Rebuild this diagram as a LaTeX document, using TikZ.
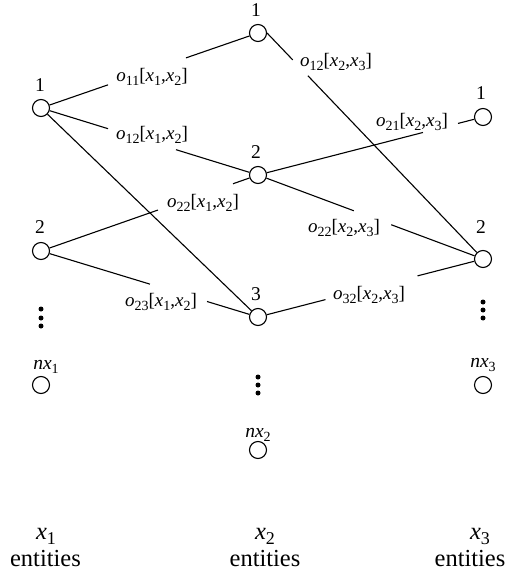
\documentclass[tikz,border=0pt]{standalone}
\usepackage{fontspec}
\setmainfont{Liberation Serif}
\newfontfamily\tms{Liberation Serif}
\usetikzlibrary{calc}
\newcommand{\sbt}[1]{\raisebox{-0.22em}{\fontsize{14}{14}\selectfont #1}}
\newcommand{\sbb}[1]{\raisebox{-0.22em}{\fontsize{18}{18}\selectfont #1}}
\begin{document}
\begin{tikzpicture}[x=1pt,y=-1pt,
  ent/.style={circle,draw,minimum size=17pt,inner sep=0pt,line width=1.1pt},
  num/.style={anchor=base,inner sep=0pt,font=\tms\fontsize{19.5}{22}\selectfont},
  elab/.style={inner sep=0pt,font=\tms\fontsize{19}{22}\selectfont},
  bigl/.style={anchor=base,inner sep=0pt,font=\tms\fontsize{24.5}{28}\selectfont},
  blob/.style={circle,fill,minimum size=5pt,inner sep=0pt},
  link/.style={line width=1.1pt}]
\useasboundingbox (0,0) rectangle (525,575);
% entity circles
\node[ent] (A1) at (41,108) {};
\node[ent] (A2) at (41,251) {};
\node[ent] (An) at (41,385) {};
\node[ent] (B1) at (258,33) {};
\node[ent] (B2) at (258,175) {};
\node[ent] (B3) at (258,317) {};
\node[ent] (Bn) at (258,450) {};
\node[ent] (C1) at (483,117) {};
\node[ent] (C2) at (483,259) {};
\node[ent] (Cn) at (483,385) {};
% numbers
\node[num] (A1l) at (40,92) {1};
\node[num] (A2l) at (40,233) {2};
\node[num] (B1l) at (256,17) {1};
\node[num] (B2l) at (256,158) {2};
\node[num] (B3l) at (256,300) {3};
\node[num] (C1l) at (481,100) {1};
\node[num] (C2l) at (481,233) {2};
\node[num] (Anl) at (46,369) {\textit{nx}\sbt{1}};
\node[num] (Bnl) at (258,437) {\textit{nx}\sbt{2}};
\node[num] (Cnl) at (483,367) {\textit{nx}\sbt{3}};
% dots
\node[blob] (Ad1) at (41,309) {};
\node[blob] (Ad2) at (41,318) {};
\node[blob] (Ad3) at (41,326) {};
\node[blob] (Bd1) at (258,377) {};
\node[blob] (Bd2) at (258,385) {};
\node[blob] (Bd3) at (258,393) {};
\node[blob] (Cd1) at (483,302) {};
\node[blob] (Cd2) at (483,310) {};
\node[blob] (Cd3) at (483,318) {};
% edge labels
\node[elab] (l11a) at (152,77) {\textit{o}\sbt{11}[\textit{x}\sbt{1},\textit{x}\sbt{2}]};
\node[elab] (l12a) at (152,135) {\textit{o}\sbt{12}[\textit{x}\sbt{1},\textit{x}\sbt{2}]};
\node[elab] (l22a) at (203,203) {\textit{o}\sbt{22}[\textit{x}\sbt{1},\textit{x}\sbt{2}]};
\node[elab] (l23a) at (161,302) {\textit{o}\sbt{23}[\textit{x}\sbt{1},\textit{x}\sbt{2}]};
\node[elab] (l12b) at (336,62) {\textit{o}\sbt{12}[\textit{x}\sbt{2},\textit{x}\sbt{3}]};
\node[elab] (l21b) at (412,122) {\textit{o}\sbt{21}[\textit{x}\sbt{2},\textit{x}\sbt{3}]};
\node[elab] (l22b) at (344,228) {\textit{o}\sbt{22}[\textit{x}\sbt{2},\textit{x}\sbt{3}]};
\node[elab] (l32b) at (369,295) {\textit{o}\sbt{32}[\textit{x}\sbt{2},\textit{x}\sbt{3}]};
% bottom labels
\node[bigl] (X1) at (46,539) {\textit{x}\sbb{1}};
\node[bigl] (X2) at (265,539) {\textit{x}\sbb{2}};
\node[bigl] (X3) at (480,539) {\textit{x}\sbb{3}};
\node[bigl] (E1) at (45.5,566) {entities};
\node[bigl] (E2) at (265,566) {entities};
\node[bigl] (E3) at (470,566) {entities};
% connectors (broken where the labels sit)
\draw[link] (A1) -- ($(A1)!0.309!(B1)$);
\draw[link] ($(A1)!0.668!(B1)$) -- (B1);
\draw[link] (A1) -- ($(A1)!0.309!(B2)$);
\draw[link] ($(A1)!0.622!(B2)$) -- (B2);
\draw[link] (A1) -- (B3);
\draw[link] (A2) -- ($(A2)!0.539!(B2)$);
\draw[link] ($(A2)!0.885!(B2)$) -- (B2);
\draw[link] (A2) -- ($(A2)!0.502!(B3)$);
\draw[link] ($(A2)!0.765!(B3)$) -- (B3);
\draw[link] (B1.east) -- ($(B1.east)!0.119!(C2)$);
\draw[link] ($(B1.east)!0.189!(C2)$) -- (C2);
\draw[link] (B2) -- ($(B2)!0.733!(C1)$);
\draw[link] ($(B2)!0.889!(C1)$) -- (C1);
\draw[link] (B2) -- ($(B2)!0.426!(C2)$);
\draw[link] ($(B2)!0.592!(C2)$) -- (C2);
\draw[link] (B3) -- ($(B3)!0.3!(C2)$);
\draw[link] ($(B3)!0.709!(C2)$) -- (C2);
\end{tikzpicture}
\end{document}
